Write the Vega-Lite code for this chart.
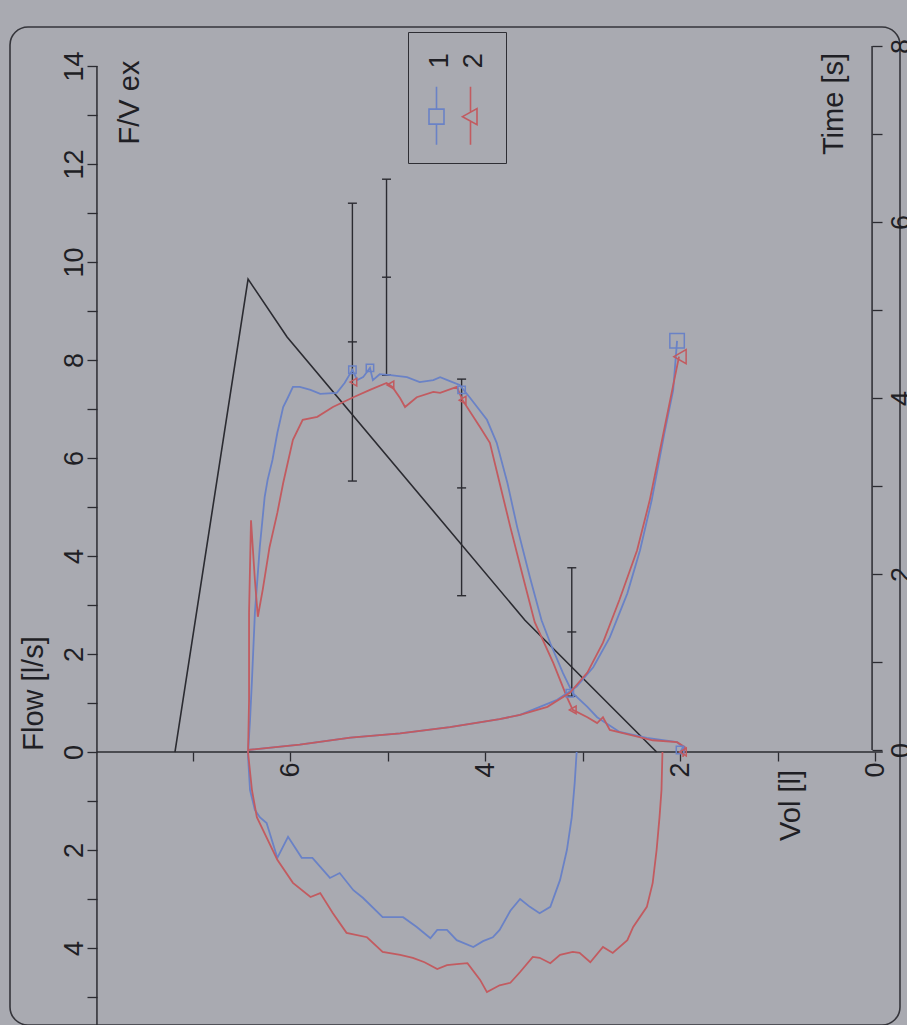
{
"$schema": "https://vega.github.io/schema/vega-lite/v6.json",
"width": 890,
"height": 998,
"autosize": {"type": "none"},
"padding": {"left": 10, "top": 27, "right": 7, "bottom": 0},
"background": "#a9aab1",
"config": {
  "view": {"stroke": "#35353b", "strokeWidth": 1.6, "cornerRadius": 18},
  "axis": {"labelFont": "Liberation Sans", "titleFont": "Liberation Sans", "labelColor": "#1f1f25", "titleColor": "#1f1f25", "tickColor": "#2b2b31", "tickWidth": 1.3, "grid": false, "domain": false, "labelFontSize": 27, "titleFontSize": 29, "titleFontWeight": "normal", "labelOverlap": false, "labelFlush": false},
  "text": {"font": "Liberation Sans"}
},
"datasets": {
  "fv": [
    {"run":"1","seq":1,"vol":3.06,"flow":0},{"run":"1","seq":2,"vol":3.08,"flow":-0.63},{"run":"1","seq":3,"vol":3.11,"flow":-1.33},{"run":"1","seq":4,"vol":3.16,"flow":-2.0},{"run":"1","seq":5,"vol":3.23,"flow":-2.61},{"run":"1","seq":6,"vol":3.33,"flow":-3.16},{"run":"1","seq":7,"vol":3.44,"flow":-3.29},{"run":"1","seq":8,"vol":3.54,"flow":-3.16},{"run":"1","seq":9,"vol":3.64,"flow":-3.0},{"run":"1","seq":10,"vol":3.74,"flow":-3.24},{"run":"1","seq":11,"vol":3.85,"flow":-3.63},{"run":"1","seq":12,"vol":3.92,"flow":-3.78},{"run":"1","seq":13,"vol":4.02,"flow":-3.86},{"run":"1","seq":14,"vol":4.12,"flow":-3.98},{"run":"1","seq":15,"vol":4.29,"flow":-3.84},{"run":"1","seq":16,"vol":4.39,"flow":-3.63},{"run":"1","seq":17,"vol":4.49,"flow":-3.63},{"run":"1","seq":18,"vol":4.56,"flow":-3.80},{"run":"1","seq":19,"vol":4.70,"flow":-3.57},{"run":"1","seq":20,"vol":4.84,"flow":-3.37},{"run":"1","seq":21,"vol":5.05,"flow":-3.37},{"run":"1","seq":22,"vol":5.25,"flow":-2.98},{"run":"1","seq":23,"vol":5.35,"flow":-2.82},{"run":"1","seq":24,"vol":5.49,"flow":-2.47},{"run":"1","seq":25,"vol":5.59,"flow":-2.57},{"run":"1","seq":26,"vol":5.77,"flow":-2.16},{"run":"1","seq":27,"vol":5.88,"flow":-2.16},{"run":"1","seq":28,"vol":6.02,"flow":-1.73},{"run":"1","seq":29,"vol":6.13,"flow":-2.16},{"run":"1","seq":30,"vol":6.24,"flow":-1.45},{"run":"1","seq":31,"vol":6.31,"flow":-1.33},{"run":"1","seq":32,"vol":6.36,"flow":-1.18},{"run":"1","seq":33,"vol":6.41,"flow":-0.78},{"run":"1","seq":34,"vol":6.43,"flow":-0.10},
    {"run":"1","seq":35,"vol":6.43,"flow":0},{"run":"1","seq":36,"vol":6.41,"flow":0.65},{"run":"1","seq":37,"vol":6.39,"flow":1.47},{"run":"1","seq":38,"vol":6.36,"flow":2.84},{"run":"1","seq":39,"vol":6.31,"flow":4.18},{"run":"1","seq":40,"vol":6.26,"flow":5.20},{"run":"1","seq":41,"vol":6.23,"flow":5.55},{"run":"1","seq":42,"vol":6.18,"flow":5.96},{"run":"1","seq":43,"vol":6.13,"flow":6.51},{"run":"1","seq":44,"vol":6.07,"flow":7.04},{"run":"1","seq":45,"vol":6.02,"flow":7.24},{"run":"1","seq":46,"vol":5.97,"flow":7.45},{"run":"1","seq":47,"vol":5.90,"flow":7.45},{"run":"1","seq":48,"vol":5.79,"flow":7.39},{"run":"1","seq":49,"vol":5.69,"flow":7.31},{"run":"1","seq":50,"vol":5.52,"flow":7.33},{"run":"1","seq":51,"vol":5.44,"flow":7.53},{"run":"1","seq":52,"vol":5.36,"flow":7.80},{"run":"1","seq":53,"vol":5.31,"flow":7.59},{"run":"1","seq":54,"vol":5.25,"flow":7.65},{"run":"1","seq":55,"vol":5.18,"flow":7.84},{"run":"1","seq":56,"vol":5.15,"flow":7.59},{"run":"1","seq":57,"vol":5.08,"flow":7.71},{"run":"1","seq":58,"vol":4.97,"flow":7.69},{"run":"1","seq":59,"vol":4.80,"flow":7.65},{"run":"1","seq":60,"vol":4.67,"flow":7.55},{"run":"1","seq":61,"vol":4.53,"flow":7.59},{"run":"1","seq":62,"vol":4.46,"flow":7.65},{"run":"1","seq":63,"vol":4.36,"flow":7.57},{"run":"1","seq":64,"vol":4.26,"flow":7.49},{"run":"1","seq":65,"vol":4.15,"flow":7.22},{"run":"1","seq":66,"vol":3.98,"flow":6.78},{"run":"1","seq":67,"vol":3.88,"flow":6.31},{"run":"1","seq":68,"vol":3.77,"flow":5.49},{"run":"1","seq":69,"vol":3.67,"flow":4.59},{"run":"1","seq":70,"vol":3.54,"flow":3.57},{"run":"1","seq":71,"vol":3.42,"flow":2.69},{"run":"1","seq":72,"vol":3.33,"flow":2.22},{"run":"1","seq":73,"vol":3.20,"flow":1.61},{"run":"1","seq":74,"vol":3.10,"flow":1.20},{"run":"1","seq":75,"vol":2.95,"flow":0.92},{"run":"1","seq":76,"vol":2.85,"flow":0.71},{"run":"1","seq":77,"vol":2.62,"flow":0.41},{"run":"1","seq":78,"vol":2.34,"flow":0.29},{"run":"1","seq":79,"vol":2.03,"flow":0.20},{"run":"1","seq":80,"vol":1.97,"flow":0.10},{"run":"1","seq":81,"vol":2.00,"flow":-0.02},
    {"run":"2","seq":1,"vol":2.18,"flow":0},{"run":"2","seq":2,"vol":2.19,"flow":-0.78},{"run":"2","seq":3,"vol":2.21,"flow":-1.33},{"run":"2","seq":4,"vol":2.24,"flow":-2.0},{"run":"2","seq":5,"vol":2.28,"flow":-2.67},{"run":"2","seq":6,"vol":2.34,"flow":-3.16},{"run":"2","seq":7,"vol":2.48,"flow":-3.57},{"run":"2","seq":8,"vol":2.54,"flow":-3.84},{"run":"2","seq":9,"vol":2.69,"flow":-4.10},{"run":"2","seq":10,"vol":2.79,"flow":-3.98},{"run":"2","seq":11,"vol":2.92,"flow":-4.29},{"run":"2","seq":12,"vol":3.03,"flow":-4.10},{"run":"2","seq":13,"vol":3.10,"flow":-4.08},{"run":"2","seq":14,"vol":3.23,"flow":-4.14},{"run":"2","seq":15,"vol":3.33,"flow":-4.31},{"run":"2","seq":16,"vol":3.44,"flow":-4.20},{"run":"2","seq":17,"vol":3.51,"flow":-4.18},{"run":"2","seq":18,"vol":3.64,"flow":-4.49},{"run":"2","seq":19,"vol":3.74,"flow":-4.71},{"run":"2","seq":20,"vol":3.85,"flow":-4.76},{"run":"2","seq":21,"vol":3.98,"flow":-4.90},{"run":"2","seq":22,"vol":4.05,"flow":-4.65},{"run":"2","seq":23,"vol":4.18,"flow":-4.31},{"run":"2","seq":24,"vol":4.29,"flow":-4.33},{"run":"2","seq":25,"vol":4.39,"flow":-4.35},{"run":"2","seq":26,"vol":4.49,"flow":-4.43},{"run":"2","seq":27,"vol":4.62,"flow":-4.29},{"run":"2","seq":28,"vol":4.74,"flow":-4.20},{"run":"2","seq":29,"vol":4.87,"flow":-4.14},{"run":"2","seq":30,"vol":5.05,"flow":-4.08},{"run":"2","seq":31,"vol":5.21,"flow":-3.78},{"run":"2","seq":32,"vol":5.42,"flow":-3.69},{"run":"2","seq":33,"vol":5.56,"flow":-3.29},{"run":"2","seq":34,"vol":5.69,"flow":-2.88},{"run":"2","seq":35,"vol":5.79,"flow":-2.96},{"run":"2","seq":36,"vol":5.97,"flow":-2.67},{"run":"2","seq":37,"vol":6.13,"flow":-2.20},{"run":"2","seq":38,"vol":6.34,"flow":-1.33},{"run":"2","seq":39,"vol":6.39,"flow":-0.78},{"run":"2","seq":40,"vol":6.43,"flow":-0.02},
    {"run":"2","seq":41,"vol":6.43,"flow":0},{"run":"2","seq":42,"vol":6.42,"flow":1.06},{"run":"2","seq":43,"vol":6.42,"flow":2.84},{"run":"2","seq":44,"vol":6.40,"flow":4.73},{"run":"2","seq":45,"vol":6.36,"flow":3.51},{"run":"2","seq":46,"vol":6.33,"flow":2.76},{"run":"2","seq":47,"vol":6.28,"flow":3.31},{"run":"2","seq":48,"vol":6.21,"flow":4.18},{"run":"2","seq":49,"vol":6.13,"flow":4.88},{"run":"2","seq":50,"vol":6.07,"flow":5.49},{"run":"2","seq":51,"vol":5.97,"flow":6.37},{"run":"2","seq":52,"vol":5.87,"flow":6.78},{"run":"2","seq":53,"vol":5.72,"flow":6.84},{"run":"2","seq":54,"vol":5.56,"flow":7.04},{"run":"2","seq":55,"vol":5.35,"flow":7.24},{"run":"2","seq":56,"vol":5.18,"flow":7.39},{"run":"2","seq":57,"vol":5.01,"flow":7.53},{"run":"2","seq":58,"vol":4.95,"flow":7.45},{"run":"2","seq":59,"vol":4.87,"flow":7.22},{"run":"2","seq":60,"vol":4.82,"flow":7.04},{"run":"2","seq":61,"vol":4.70,"flow":7.24},{"run":"2","seq":62,"vol":4.53,"flow":7.35},{"run":"2","seq":63,"vol":4.46,"flow":7.33},{"run":"2","seq":64,"vol":4.29,"flow":7.45},{"run":"2","seq":65,"vol":4.23,"flow":7.18},{"run":"2","seq":66,"vol":4.05,"flow":6.63},{"run":"2","seq":67,"vol":3.95,"flow":6.31},{"run":"2","seq":68,"vol":3.85,"flow":5.49},{"run":"2","seq":69,"vol":3.74,"flow":4.59},{"run":"2","seq":70,"vol":3.61,"flow":3.57},{"run":"2","seq":71,"vol":3.49,"flow":2.65},{"run":"2","seq":72,"vol":3.30,"flow":1.82},{"run":"2","seq":73,"vol":3.16,"flow":1.12},{"run":"2","seq":74,"vol":3.10,"flow":0.86},{"run":"2","seq":75,"vol":2.95,"flow":0.71},{"run":"2","seq":76,"vol":2.85,"flow":0.59},{"run":"2","seq":77,"vol":2.79,"flow":0.71},{"run":"2","seq":78,"vol":2.72,"flow":0.45},{"run":"2","seq":79,"vol":2.51,"flow":0.35},{"run":"2","seq":80,"vol":2.28,"flow":0.24},{"run":"2","seq":81,"vol":2.03,"flow":0.20},{"run":"2","seq":82,"vol":1.95,"flow":0.10},{"run":"2","seq":83,"vol":1.97,"flow":-0.10}
  ],
  "vt": [
    {"run":"1","seq":1,"vol":6.43,"time":0},{"run":"1","seq":2,"vol":5.90,"time":0.06},{"run":"1","seq":3,"vol":5.38,"time":0.14},{"run":"1","seq":4,"vol":4.87,"time":0.19},{"run":"1","seq":5,"vol":4.36,"time":0.26},{"run":"1","seq":6,"vol":3.85,"time":0.35},{"run":"1","seq":7,"vol":3.64,"time":0.40},{"run":"1","seq":8,"vol":3.26,"time":0.57},{"run":"1","seq":9,"vol":3.06,"time":0.72},{"run":"1","seq":10,"vol":2.89,"time":0.94},{"run":"1","seq":11,"vol":2.72,"time":1.28},{"run":"1","seq":12,"vol":2.54,"time":1.78},{"run":"1","seq":13,"vol":2.41,"time":2.27},{"run":"1","seq":14,"vol":2.29,"time":2.84},{"run":"1","seq":15,"vol":2.16,"time":3.60},{"run":"1","seq":16,"vol":2.07,"time":4.09},{"run":"1","seq":17,"vol":2.03,"time":4.65},
    {"run":"2","seq":1,"vol":6.43,"time":0},{"run":"2","seq":2,"vol":5.90,"time":0.06},{"run":"2","seq":3,"vol":5.38,"time":0.14},{"run":"2","seq":4,"vol":4.87,"time":0.19},{"run":"2","seq":5,"vol":4.36,"time":0.26},{"run":"2","seq":6,"vol":3.85,"time":0.35},{"run":"2","seq":7,"vol":3.64,"time":0.40},{"run":"2","seq":8,"vol":3.36,"time":0.49},{"run":"2","seq":9,"vol":3.13,"time":0.65},{"run":"2","seq":10,"vol":2.95,"time":0.88},{"run":"2","seq":11,"vol":2.79,"time":1.22},{"run":"2","seq":12,"vol":2.62,"time":1.71},{"run":"2","seq":13,"vol":2.44,"time":2.27},{"run":"2","seq":14,"vol":2.31,"time":2.84},{"run":"2","seq":15,"vol":2.17,"time":3.60},{"run":"2","seq":16,"vol":2.08,"time":4.09},{"run":"2","seq":17,"vol":2.01,"time":4.47}
  ],
  "pred": [
    {"seq":1,"vol":7.18,"flow":0},{"seq":2,"vol":6.43,"flow":9.65},{"seq":3,"vol":6.03,"flow":8.47},{"seq":4,"vol":3.59,"flow":2.69},{"seq":5,"vol":2.24,"flow":0}
  ],
  "bars": [
    {"vol":5.36,"lo":5.53,"mid":8.37,"hi":11.20},{"vol":5.01,"lo":7.69,"mid":9.69,"hi":11.69},{"vol":4.24,"lo":3.19,"mid":5.39,"hi":7.61},{"vol":3.11,"lo":1.14,"mid":2.45,"hi":3.76}
  ],
  "pts": [
    {"run":"1","vol":5.36,"flow":7.80},{"run":"1","vol":5.18,"flow":7.84},{"run":"1","vol":4.24,"flow":7.39},{"run":"1","vol":3.13,"flow":1.20},{"run":"1","vol":2.00,"flow":0.04},
    {"run":"2","vol":5.35,"flow":7.55},{"run":"2","vol":4.97,"flow":7.49},{"run":"2","vol":4.23,"flow":7.18},{"run":"2","vol":3.10,"flow":0.86},{"run":"2","vol":1.97,"flow":0.0}
  ],
  "vtend": [
    {"run":"1","vol":2.03,"time":4.65},{"run":"2","vol":2.00,"time":4.47}
  ]
},
"layer": [
  {"layer": [
    {"data": {"values": [{}]}, "mark": {"type": "rule", "color": "#2b2b31", "strokeWidth": 1.5},
     "encoding": {"x": {"datum": 7.98, "type": "quantitative"}, "y": {"datum": -5.571, "type": "quantitative"}, "y2": {"datum": 14.0}}},
    {"data": {"values": [{}]}, "mark": {"type": "rule", "color": "#2b2b31", "strokeWidth": 1.5},
     "encoding": {"x": {"datum": 7.98, "type": "quantitative"}, "x2": {"datum": -0.08}, "y": {"datum": 0, "type": "quantitative"}}},
    {"data": {"name": "bars"}, "mark": {"type": "rule", "color": "#2b2b31", "strokeWidth": 1.4},
     "encoding": {"x": {"field": "vol", "type": "quantitative"}, "y": {"field": "lo", "type": "quantitative"}, "y2": {"field": "hi"}}},
    {"data": {"name": "bars"}, "transform": [{"fold": ["lo", "mid", "hi"], "as": ["part", "val"]}],
     "mark": {"type": "tick", "orient": "horizontal", "size": 9, "thickness": 1.4, "color": "#2b2b31", "opacity": 1},
     "encoding": {"x": {"field": "vol", "type": "quantitative"}, "y": {"field": "val", "type": "quantitative"}}},
    {"data": {"name": "pred"}, "mark": {"type": "line", "color": "#2b2b31", "strokeWidth": 1.6},
     "encoding": {"x": {"field": "vol", "type": "quantitative"}, "y": {"field": "flow", "type": "quantitative"}, "order": {"field": "seq"}}},
    {"data": {"name": "fv"}, "mark": {"type": "line", "strokeWidth": 1.8},
     "encoding": {
       "x": {"field": "vol", "type": "quantitative",
             "scale": {"domain": [-0.2564, 8.8718], "reverse": true, "nice": false, "zero": false},
             "axis": {"orient": "bottom", "offset": -273, "values": [0,1,2,3,4,5,6,7], "format": "d", "labelExpr": "datum.value % 2 == 0 ? datum.label : ''", "tickSize": 9, "labelAngle": 270, "labelAlign": "right", "labelBaseline": "middle", "labelPadding": 1, "title": "Vol [l]", "titleAngle": 270, "titleX": 789, "titleY": 53, "titleAlign": "center", "titleBaseline": "alphabetic"}},
       "y": {"field": "flow", "type": "quantitative",
             "scale": {"domain": [-5.571, 14.796], "nice": false, "zero": false},
             "axis": {"orient": "left", "offset": -87, "values": [-5,-4,-3,-2,-1,0,1,2,3,4,5,6,7,8,9,10,11,12,13,14], "labelExpr": "abs(datum.value) % 2 == 0 ? '' + abs(datum.value) : ''", "tickSize": 10, "labelAngle": 270, "labelAlign": "center", "labelBaseline": "alphabetic", "labelPadding": 5, "title": "Flow [l/s]", "titleAngle": 270, "titleX": -55, "titleY": 666, "titleAlign": "center", "titleBaseline": "alphabetic"}},
       "color": {"field": "run", "type": "nominal",
                 "scale": {"domain": ["1", "2"], "range": ["#6a82c6", "#c25b60"]},
                 "legend": {"orient": "none", "legendX": 398, "legendY": 5, "direction": "horizontal", "columns": 2, "title": null, "strokeColor": "#2e2e34", "padding": 15, "columnPadding": -7, "labelFont": "Liberation Sans", "labelFontSize": 27, "labelColor": "#1f1f25", "labelOffset": -10, "symbolSize": 400, "symbolStrokeWidth": 1.6, "symbolOpacity": 1,
                   "encoding": {
                     "labels": {"angle": {"value": 270}, "align": {"value": "center"}, "baseline": {"value": "middle"}}
                   }}},
       "order": {"field": "seq"}}},
    {"data": {"name": "pts"},
     "mark": {"type": "point", "filled": false, "opacity": 0, "strokeWidth": 1.6},
     "encoding": {"x": {"field": "vol", "type": "quantitative"}, "y": {"field": "flow", "type": "quantitative"},
                  "color": {"field": "run", "type": "nominal"},
                  "shape": {"field": "run", "type": "nominal", "scale": {"domain": ["1", "2"], "range": ["M0,2.6V4.85M0,6.35V8.4M-0.75,4.85H0.75V6.35H-0.75ZM-1.65,5.6L-1.65,5.6M1.65,5.6L1.65,5.6", "M0,2.6V5.16M0,6.04V8.4M-0.8,5.6L0.65,4.8L0.65,6.4ZM-1.65,5.6L-1.65,5.6M1.65,5.6L1.65,5.6"]}}}},
    {"data": {"name": "pts"}, "transform": [{"filter": "datum.run == '1'"}],
     "mark": {"type": "point", "shape": "square", "filled": false, "size": 55, "strokeWidth": 1.5, "color": "#6a82c6", "opacity": 1},
     "encoding": {"x": {"field": "vol", "type": "quantitative"}, "y": {"field": "flow", "type": "quantitative"}}},
    {"data": {"name": "pts"}, "transform": [{"filter": "datum.run == '2'"}],
     "mark": {"type": "point", "shape": "triangle-left", "filled": false, "size": 60, "strokeWidth": 1.5, "color": "#c25b60", "opacity": 1},
     "encoding": {"x": {"field": "vol", "type": "quantitative"}, "y": {"field": "flow", "type": "quantitative"}}},
    {"data": {"values": [{}]},
     "mark": {"type": "text", "text": "F/V ex", "angle": 270, "align": "center", "baseline": "alphabetic", "fontSize": 29, "color": "#1f1f25", "font": "Liberation Sans"},
     "encoding": {"x": {"datum": 7.549, "type": "quantitative"}, "y": {"datum": 13.255, "type": "quantitative"}}}
  ]},
  {"layer": [
    {"data": {"values": [{}]}, "mark": {"type": "rule", "color": "#2b2b31", "strokeWidth": 1.5},
     "encoding": {"x": {"datum": 0.03, "type": "quantitative"}, "y": {"datum": 0, "type": "quantitative"}, "y2": {"datum": 8}}},
    {"data": {"name": "vt"}, "mark": {"type": "line", "strokeWidth": 1.8},
     "encoding": {
       "x": {"field": "vol", "type": "quantitative"},
       "y": {"field": "time", "type": "quantitative",
             "scale": {"domain": [-3.125, 8.216], "nice": false, "zero": false},
             "axis": {"orient": "right", "offset": -28, "values": [0,1,2,3,4,5,6,7,8], "format": "d", "labelExpr": "datum.value % 2 == 0 ? datum.label : ''", "tickSize": 10, "labelAngle": 270, "labelAlign": "center", "labelBaseline": "top", "labelPadding": 6, "title": "Time [s]", "titleAngle": 270, "titleX": -30, "titleY": 76.5, "titleAlign": "center", "titleBaseline": "alphabetic"}},
       "color": {"field": "run", "type": "nominal"},
       "order": {"field": "seq"}}},
    {"data": {"name": "vtend"}, "transform": [{"filter": "datum.run == '1'"}],
     "mark": {"type": "point", "shape": "square", "filled": false, "size": 210, "strokeWidth": 1.5, "color": "#6a82c6", "opacity": 1},
     "encoding": {"x": {"field": "vol", "type": "quantitative"}, "y": {"field": "time", "type": "quantitative"}}},
    {"data": {"name": "vtend"}, "transform": [{"filter": "datum.run == '2'"}],
     "mark": {"type": "point", "shape": "triangle-left", "filled": false, "size": 200, "strokeWidth": 1.5, "color": "#c25b60", "opacity": 1},
     "encoding": {"x": {"field": "vol", "type": "quantitative"}, "y": {"field": "time", "type": "quantitative"}}}
  ]}
],
"resolve": {"scale": {"y": "independent"}, "axis": {"y": "independent"}}
}
